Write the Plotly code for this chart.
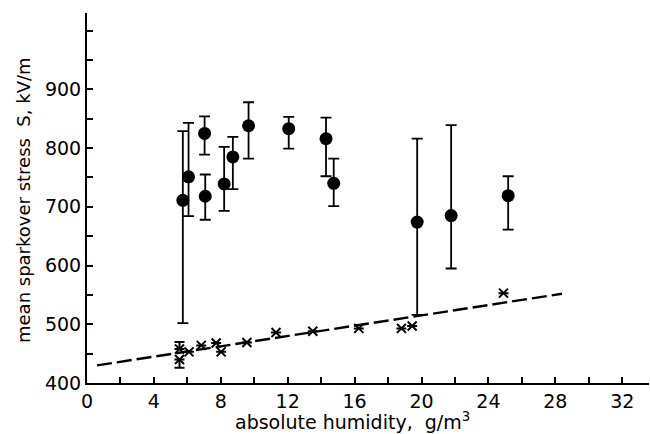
import plotly.graph_objects as go

# filled circles: mean sparkover stress with error bars
circ_x = [5.73, 6.07, 7.03, 7.07, 8.2, 8.72, 9.66, 12.06, 14.29, 14.75, 19.74, 21.77, 25.18]
circ_y = [711, 751, 825, 718, 739, 785, 838, 833, 816, 740, 674, 685, 719]
circ_hi = [829, 843, 854, 755, 802, 819, 878, 853, 852, 782, 816, 839, 752]
circ_lo = [502, 684, 789, 678, 693, 730, 782, 799, 752, 701, 516, 595, 661]

# crosses
cross_x = [5.53, 5.53, 6.1, 6.83, 7.72, 8.02, 9.56, 11.3, 13.5, 16.25, 18.8, 19.44, 24.9]
cross_y = [458, 440, 453, 464, 468, 453, 469, 486, 488, 493, 493, 497, 553]
cross_hi = [470, 440, 453, 464, 468, 453, 469, 486, 488, 493, 493, 497, 553]
cross_lo = [458, 426, 453, 464, 468, 453, 469, 486, 488, 493, 493, 497, 553]

# dashed fit line
fit_x = [0.6, 28.4]
fit_y = [430, 552]

x_major = list(range(0, 33, 4))
x_minor = [v for v in range(0, 33, 2) if v % 4]
y_major = list(range(400, 901, 100))
y_minor = [v for v in range(400, 1001, 50) if v not in y_major]

x_title = "absolute humidity,  g/m<sup>3</sup>"
y_title = "mean sparkover stress  S, kV/m"

FONT = "DejaVu Sans"

fig = go.Figure()

fig.add_trace(go.Scatter(
    x=fit_x, y=fit_y, mode="lines",
    line=dict(color="black", width=2.4, dash="15px,5px"),
    showlegend=False, hoverinfo="skip"))

fig.add_trace(go.Scatter(
    x=cross_x, y=cross_y, mode="markers",
    marker=dict(symbol="x-thin", size=9, color="black",
                line=dict(color="black", width=2)),
    error_y=dict(type="data", symmetric=False,
                 array=[h - y for h, y in zip(cross_hi, cross_y)],
                 arrayminus=[y - l for l, y in zip(cross_lo, cross_y)],
                 color="black", thickness=2, width=5),
    showlegend=False))

fig.add_trace(go.Scatter(
    x=circ_x, y=circ_y, mode="markers",
    marker=dict(symbol="circle", size=13, color="black"),
    error_y=dict(type="data", symmetric=False,
                 array=[h - y for h, y in zip(circ_hi, circ_y)],
                 arrayminus=[y - l for l, y in zip(circ_lo, circ_y)],
                 color="black", thickness=1.8, width=5.5),
    showlegend=False))

fig.update_layout(
    width=650, height=434,
    margin=dict(l=87, r=1, t=13, b=51),
    paper_bgcolor="white", plot_bgcolor="white",
    font=dict(family=FONT, color="black", size=18),
    annotations=[
        dict(text=x_title, xref="paper", yref="paper",
             x=(352 - 87) / 562, y=-(421 - 383) / 370,
             xanchor="center", yanchor="middle", showarrow=False,
             font=dict(family=FONT, size=19)),
        dict(text=y_title, xref="paper", yref="paper",
             x=-(87 - 24) / 562, y=(383 - 200) / 370,
             xanchor="center", yanchor="middle", showarrow=False,
             textangle=-90, font=dict(family=FONT, size=18)),
    ],
)

fig.update_xaxes(
    range=[0, 33.6], showgrid=False, zeroline=False,
    showline=True, linecolor="black", linewidth=2,
    ticks="inside", ticklen=6, tickwidth=1.5, tickcolor="black",
    tickmode="array", tickvals=x_major, ticktext=[str(v) for v in x_major],
    tickfont=dict(family=FONT, size=19),
    minor=dict(tickmode="array", tickvals=x_minor, ticks="inside",
               ticklen=6, tickwidth=1.5, tickcolor="black", showgrid=False),
)
fig.update_yaxes(
    range=[400, 1030], showgrid=False, zeroline=False,
    showline=True, linecolor="black", linewidth=2,
    ticks="inside", ticklen=6, tickwidth=1.5, tickcolor="black",
    tickmode="array", tickvals=y_major, ticktext=[str(v) for v in y_major],
    tickfont=dict(family=FONT, size=19),
    minor=dict(tickmode="array", tickvals=y_minor, ticks="inside",
               ticklen=6, tickwidth=1.5, tickcolor="black", showgrid=False),
)

fig.write_html("out.html")
